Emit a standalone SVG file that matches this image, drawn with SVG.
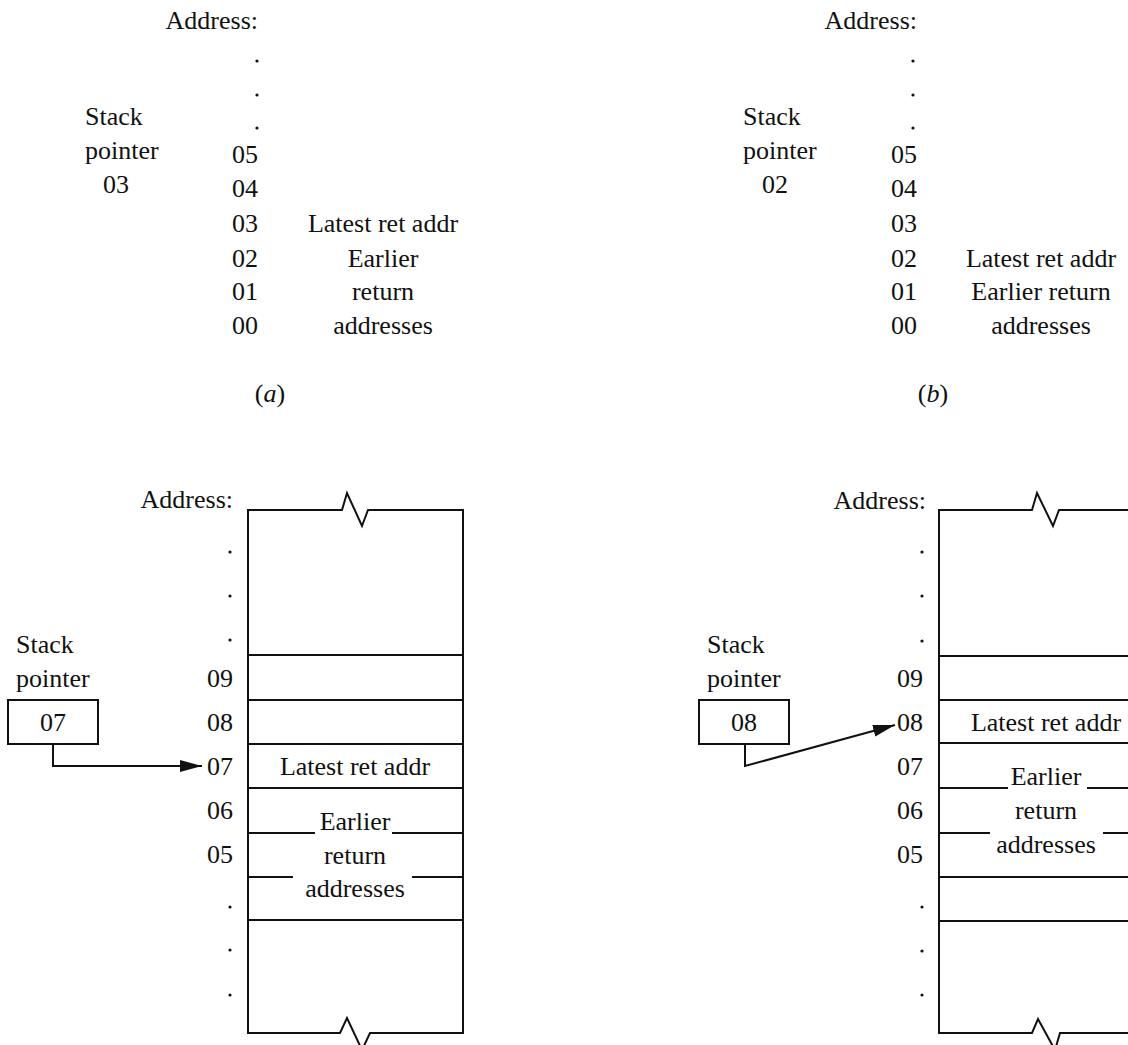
<svg xmlns="http://www.w3.org/2000/svg" width="1128" height="1045" viewBox="0 0 1128 1045">
  <style>
    text { font-family: "Liberation Serif", "Times New Roman", serif; font-size: 26px; fill: #111; }
    .num { text-anchor: end; }
    .mid { text-anchor: middle; }
    .box { fill: none; stroke: #111; stroke-width: 2; }
    .ln { stroke: #111; stroke-width: 2; fill: none; }
    .dot { fill: #111; }
    .conn { stroke: #111; stroke-width: 2; fill: none; }
  </style>
  <defs>
    <marker id="arrow" markerUnits="userSpaceOnUse" markerWidth="24" markerHeight="14" refX="22" refY="6" orient="auto">
      <path d="M0,0 L22,6 L0,12 z" fill="#111"/>
    </marker>
  </defs>
  <rect width="1128" height="1045" fill="#fff"/>

  <!-- Panel (a) -->
  <g id="panel-a">
    <text x="258" y="29" class="num">Address:</text>
    <circle class="dot" cx="257" cy="61" r="1.6"/>
    <circle class="dot" cx="257" cy="95" r="1.6"/>
    <circle class="dot" cx="257" cy="128" r="1.6"/>
    <text x="85" y="125">Stack</text>
    <text x="85" y="159">pointer</text>
    <text x="116" y="193" class="mid">03</text>
    <text x="258" y="163" class="num">05</text>
    <text x="258" y="197" class="num">04</text>
    <text x="258" y="232" class="num">03</text>
    <text x="258" y="267" class="num">02</text>
    <text x="258" y="300" class="num">01</text>
    <text x="258" y="334" class="num">00</text>
    <text x="383" y="232" class="mid">Latest ret addr</text>
    <text x="383" y="267" class="mid">Earlier</text>
    <text x="383" y="300" class="mid">return</text>
    <text x="383" y="334" class="mid">addresses</text>
    <text x="270" y="402" class="mid">(<tspan font-style="italic">a</tspan>)</text>
  </g>

  <!-- Panel (b) -->
  <g id="panel-b">
    <text x="917" y="29" class="num">Address:</text>
    <circle class="dot" cx="913" cy="61" r="1.6"/>
    <circle class="dot" cx="913" cy="95" r="1.6"/>
    <circle class="dot" cx="913" cy="128" r="1.6"/>
    <text x="743" y="125">Stack</text>
    <text x="743" y="159">pointer</text>
    <text x="775" y="193" class="mid">02</text>
    <text x="917" y="163" class="num">05</text>
    <text x="917" y="197" class="num">04</text>
    <text x="917" y="232" class="num">03</text>
    <text x="917" y="267" class="num">02</text>
    <text x="917" y="300" class="num">01</text>
    <text x="917" y="334" class="num">00</text>
    <text x="1041" y="267" class="mid">Latest ret addr</text>
    <text x="1041" y="300" class="mid">Earlier return</text>
    <text x="1041" y="334" class="mid">addresses</text>
    <text x="933" y="402" class="mid">(<tspan font-style="italic">b</tspan>)</text>
  </g>

  <!-- Panel (c) -->
  <g id="panel-c">
    <text x="233" y="508" class="num">Address:</text>
    <path class="box" d="M248,1033 L248,510 L342,510 L347,493 L362,526 L368,510 L463,510 L463,1033 L370,1033 L362,1050 L347,1018 L340,1033 Z"/>
    <line class="ln" x1="248" y1="655" x2="463" y2="655"/>
    <line class="ln" x1="248" y1="700" x2="463" y2="700"/>
    <line class="ln" x1="248" y1="744" x2="463" y2="744"/>
    <line class="ln" x1="248" y1="788" x2="463" y2="788"/>
    <line class="ln" x1="248" y1="833" x2="315" y2="833"/>
    <line class="ln" x1="392" y1="833" x2="463" y2="833"/>
    <line class="ln" x1="248" y1="877" x2="293" y2="877"/>
    <line class="ln" x1="412" y1="877" x2="463" y2="877"/>
    <line class="ln" x1="248" y1="920" x2="463" y2="920"/>
    <circle class="dot" cx="230" cy="552" r="1.6"/>
    <circle class="dot" cx="230" cy="596" r="1.6"/>
    <circle class="dot" cx="230" cy="640" r="1.6"/>
    <circle class="dot" cx="230" cy="907" r="1.6"/>
    <circle class="dot" cx="230" cy="950" r="1.6"/>
    <circle class="dot" cx="230" cy="995" r="1.6"/>
    <text x="233" y="687" class="num">09</text>
    <text x="233" y="731" class="num">08</text>
    <text x="233" y="775" class="num">07</text>
    <text x="233" y="819" class="num">06</text>
    <text x="233" y="863" class="num">05</text>
    <text x="355" y="775" class="mid">Latest ret addr</text>
    <text x="355" y="830" class="mid">Earlier</text>
    <text x="355" y="864" class="mid">return</text>
    <text x="355" y="897" class="mid">addresses</text>
  </g>
  <g id="sp-c">
    <text x="16" y="653">Stack</text>
    <text x="16" y="687">pointer</text>
    <rect class="box" x="8" y="700" width="90" height="44"/>
    <text x="53" y="731" class="mid">07</text>
  </g>

  <!-- Panel (d) -->
  <g id="panel-d">
    <text x="926" y="509" class="num">Address:</text>
    <path class="box" d="M1140,510 L1059,510 L1053,526 L1037,493 L1032,510 L939,510 L939,1033 L1032,1033 L1038,1019 L1055,1050 L1060,1033 L1140,1033"/>
    <line class="ln" x1="939" y1="656" x2="1140" y2="656"/>
    <line class="ln" x1="939" y1="700" x2="1140" y2="700"/>
    <line class="ln" x1="939" y1="743" x2="1140" y2="743"/>
    <line class="ln" x1="939" y1="788" x2="1008" y2="788"/>
    <line class="ln" x1="1087" y1="788" x2="1140" y2="788"/>
    <line class="ln" x1="939" y1="833" x2="990" y2="833"/>
    <line class="ln" x1="1103" y1="833" x2="1140" y2="833"/>
    <line class="ln" x1="939" y1="877" x2="1140" y2="877"/>
    <line class="ln" x1="939" y1="921" x2="1140" y2="921"/>
    <circle class="dot" cx="922" cy="552" r="1.6"/>
    <circle class="dot" cx="922" cy="596" r="1.6"/>
    <circle class="dot" cx="922" cy="641" r="1.6"/>
    <circle class="dot" cx="922" cy="907" r="1.6"/>
    <circle class="dot" cx="922" cy="951" r="1.6"/>
    <circle class="dot" cx="922" cy="995" r="1.6"/>
    <text x="923" y="687" class="num">09</text>
    <text x="923" y="731" class="num">08</text>
    <text x="923" y="775" class="num">07</text>
    <text x="923" y="819" class="num">06</text>
    <text x="923" y="863" class="num">05</text>
    <text x="1046" y="731" class="mid">Latest ret addr</text>
    <text x="1046" y="785" class="mid">Earlier</text>
    <text x="1046" y="819" class="mid">return</text>
    <text x="1046" y="853" class="mid">addresses</text>
  </g>
  <g id="sp-d">
    <text x="707" y="653">Stack</text>
    <text x="707" y="687">pointer</text>
    <rect class="box" x="699" y="700" width="90" height="44"/>
    <text x="744" y="731" class="mid">08</text>
  </g>

  <!-- Connectors -->
  <g id="connectors">
    <polyline class="conn" points="53,744 53,766 202,766" marker-end="url(#arrow)"/>
    <polyline class="conn" points="745,744 745,766 895,725" marker-end="url(#arrow)"/>
  </g>
</svg>
